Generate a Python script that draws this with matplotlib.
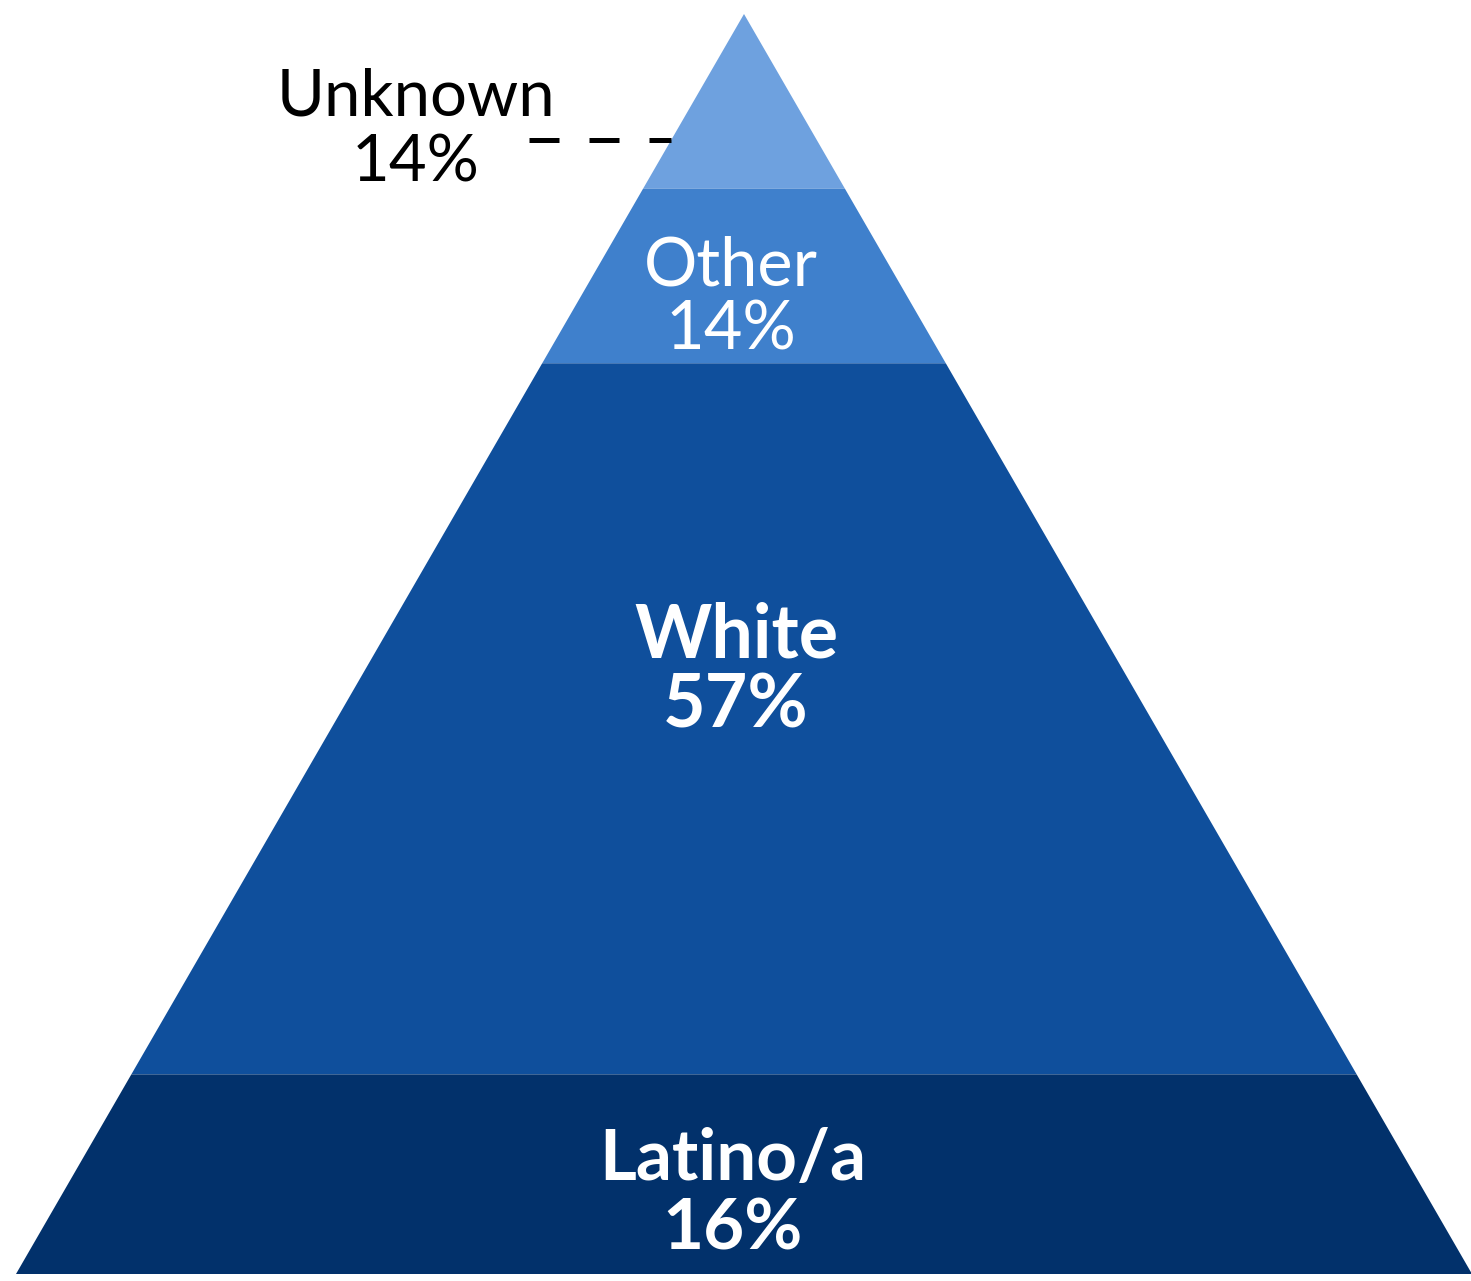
import matplotlib.pyplot as plt
from matplotlib.patches import Polygon

# layers from top to bottom
groups = ["Unknown", "Other", "White", "Latino/a"]
shares = [14, 14, 57, 16]
colors = ["#6EA1DF", "#3F80CC", "#0F4F9C", "#02316B"]

W, H = 1471, 1281
apex_x, apex_y = 744, 14
base_y, half_base = 1274, 728

fig = plt.figure(figsize=(W / 100, H / 100), dpi=100)
ax = fig.add_axes([0, 0, 1, 1])
ax.set_xlim(0, W)
ax.set_ylim(H, 0)
ax.axis("off")

total = sum(shares)
height = base_y - apex_y


def half_width(y):
    return (y - apex_y) / height * half_base


cum = 0
for g, s, c in zip(groups, shares, colors):
    y0 = apex_y + cum / total * height
    cum += s
    y1 = apex_y + cum / total * height
    pts = [
        (apex_x - half_width(y0), y0),
        (apex_x + half_width(y0), y0),
        (apex_x + half_width(y1), y1),
        (apex_x - half_width(y1), y1),
    ]
    ax.add_patch(Polygon(pts, closed=True, facecolor=c, edgecolor="none"))

# labels: (x, first baseline, second baseline, size, weight, color)
label_style = [
    (416, 116, 182, 47, "normal", "black"),
    (731, 285, 350, 48, "normal", "white"),
    (736, 657, 727, 53, "bold", "white"),
    (733, 1180, 1249, 51, "bold", "white"),
]
for g, s, (x, b1, b2, fs, fw, col) in zip(groups, shares, label_style):
    for txt, b in ((g, b1), (f"{s}%", b2)):
        ax.text(x, b, txt, ha="center", va="baseline", fontsize=fs,
                fontweight=fw, color=col, family=["Lato", "DejaVu Sans"])

# dashed leader line for Unknown
ly = 140
ax.plot([529, apex_x - half_width(ly)], [ly, ly], color="black", lw=3.6,
        linestyle=(0, (6, 6)), dash_capstyle="butt")

fig.savefig("out.png", dpi=100)
